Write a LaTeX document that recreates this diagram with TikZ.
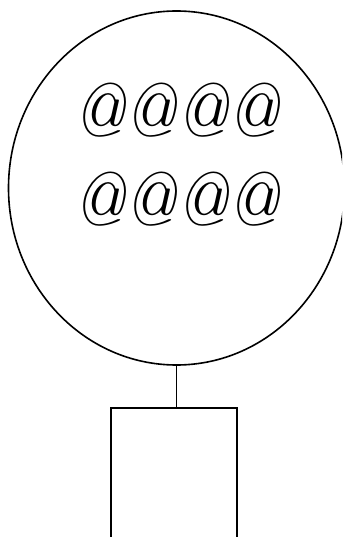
\documentclass[tikz,border=0pt]{standalone}
\usetikzlibrary{shapes.geometric}
\tikzset{
  outline/.style={draw=black, line width=1.6pt, inner sep=0pt},
  atrow/.style={anchor=base, inner sep=0pt, font=\fontsize{76}{80}\selectfont\itshape}
}
\begin{document}
\begin{tikzpicture}[x=1pt,y=-1pt]
\clip (0,0) rectangle (342,537);
\node[outline, ellipse, minimum width=336pt, minimum height=354pt] (face) at (176.5,188) {};
\node[atrow] (toprow) at (176,137) {\scalebox{0.9}[1]{@@@@}};
\node[atrow] (bottomrow) at (176,225) {\scalebox{0.9}[1]{@@@@}};
\node[outline, rectangle, minimum width=126pt, minimum height=200pt, anchor=north] (body) at (173.7,407) {};
\draw[line width=1.6pt] (face.south) -- (body.north -| face.south);
\end{tikzpicture}
\end{document}
